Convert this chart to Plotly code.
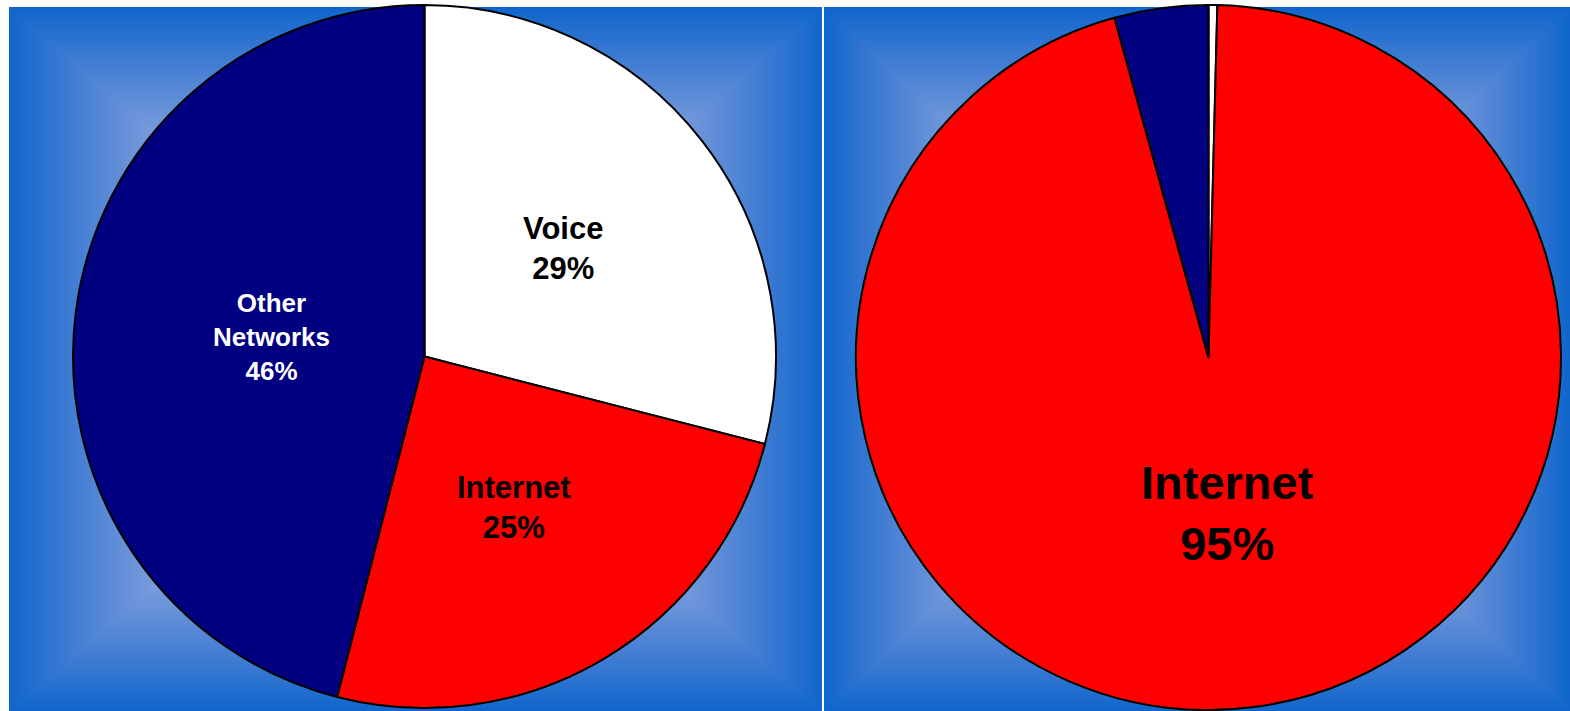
import numpy as np
import plotly.graph_objects as go

# ---- data ----
left_labels = ["Voice", "Internet", "Other Networks"]
left_text = ["Voice", "Internet", "Other<br>Networks"]
left_values = [29, 25, 46]

right_labels = ["Voice", "Internet", "Other Networks"]
right_text = ["Voice", "Internet", "Other<br>Networks"]
right_values = [0.4, 95.3, 4.3]

slice_colors = ["#FFFFFF", "#FF0000", "#000080"]

W, H = 1570, 711

# ---- background gradient (rectangular path gradient) ----
N = 401
u = np.linspace(-1, 1, N)
U, V = np.meshgrid(u, u)
T = np.maximum(np.abs(U), np.abs(V))
bg_scale = [
    [0.0, "rgb(215,225,245)"],
    [0.6, "rgb(130,162,223)"],
    [0.68, "rgb(112,150,218)"],
    [0.85, "rgb(64,124,210)"],
    [1.0, "rgb(16,102,204)"],
]

fig = go.Figure()
for ax in ["", "2"]:
    fig.add_trace(go.Heatmap(
        z=T, x0=0, dx=1, y0=0, dy=1, colorscale=bg_scale, zmin=0, zmax=1,
        showscale=False, zsmooth="best", hoverinfo="skip",
        xaxis="x" + ax, yaxis="y" + ax,
    ))

# pie domains in pixels (x0, x1, ytop, ybottom)
left_box = (73, 776, 5, 708)
right_box = (856, 1561, 5, 710)


def dom(box):
    x0, x1, yt, yb = box
    return dict(x=[x0 / W, x1 / W], y=[1 - yb / H, 1 - yt / H])


fig.add_trace(go.Pie(
    labels=left_labels, values=left_values,
    sort=False, direction="clockwise", rotation=0,
    marker=dict(colors=slice_colors, line=dict(color="black", width=2)),
    textinfo="none", domain=dom(left_box),
    showlegend=False, hoverinfo="label+percent",
))
fig.add_trace(go.Pie(
    labels=right_labels, values=right_values,
    sort=False, direction="clockwise", rotation=0,
    marker=dict(colors=slice_colors, line=dict(color="black", width=2)),
    textinfo="none", domain=dom(right_box),
    showlegend=False, hoverinfo="label+percent",
))


def add_labels(box, values, texts, show, sizes, colors, rfrac):
    x0, x1, yt, yb = box
    cx, cy = (x0 + x1) / 2, (yt + yb) / 2
    R = min(x1 - x0, yb - yt) / 2
    tot = sum(values)
    cum = 0
    for v, t, s, sz, c, rf in zip(values, texts, show, sizes, colors, rfrac):
        mid = (cum + v / 2) / tot * 2 * np.pi
        cum += v
        if not s:
            continue
        px = cx + rf * R * np.sin(mid)
        py = cy - rf * R * np.cos(mid)
        fig.add_annotation(
            x=px / W, y=1 - py / H, xref="paper", yref="paper",
            xanchor="center", yanchor="middle", showarrow=False,
            text="<b>%s<br>%d%%</b>" % (t, round(v / tot * 100)),
            font=dict(family="Liberation Sans, Arial", size=sz, color=c),
        )


add_labels(left_box, left_values, left_text, [True, True, True],
           [31, 31, 26], ["black", "black", "white"], [0.5, 0.5, 0.44])
add_labels(right_box, right_values, right_text, [False, True, False],
           [47, 47, 47], ["black", "black", "white"], [0.5, 0.445, 0.5])

ax_common = dict(visible=False, fixedrange=True)
fig.update_layout(
    width=W, height=H,
    margin=dict(l=0, r=0, t=0, b=0),
    paper_bgcolor="white", plot_bgcolor="white",
    xaxis=dict(domain=[9 / W, 822 / W], range=[-0.5, N - 0.5], **ax_common),
    yaxis=dict(domain=[0, 1 - 7 / H], range=[-0.5, N - 0.5], **ax_common),
    xaxis2=dict(domain=[824 / W, 1], range=[-0.5, N - 0.5], anchor="y2", **ax_common),
    yaxis2=dict(domain=[0, 1 - 7 / H], range=[-0.5, N - 0.5], anchor="x2", **ax_common),
)

fig.write_html("out.html")
